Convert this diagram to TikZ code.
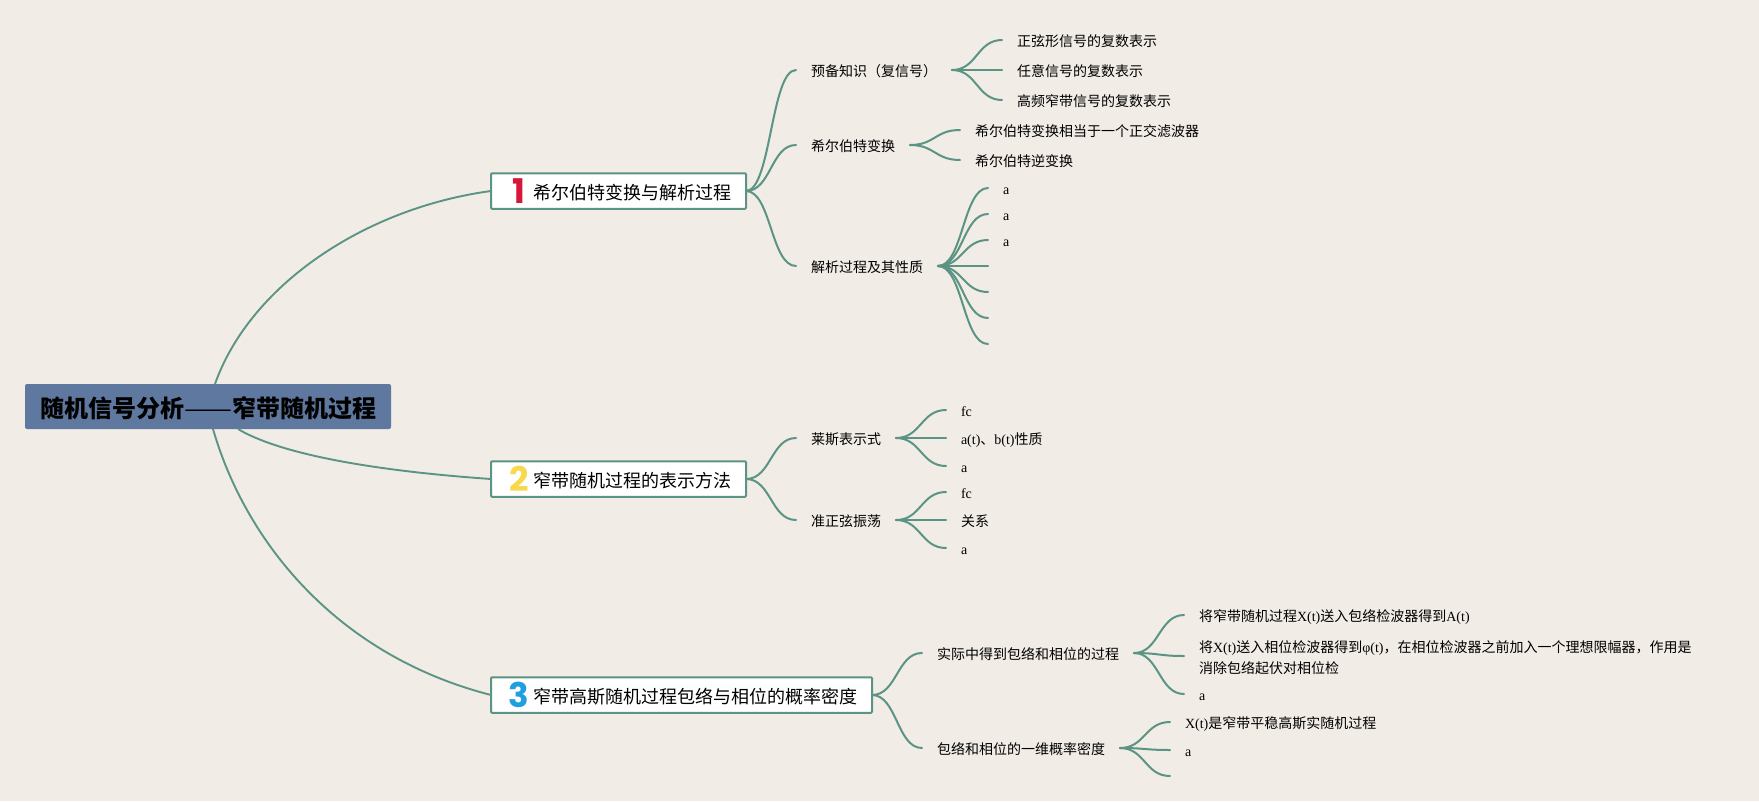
\documentclass[tikz,border=0pt]{standalone}
\usepackage{fontspec}
\usepackage{graphicx}
\setmainfont{Liberation Serif}
\newfontfamily\cjk{Noto Sans CJK SC}
\newfontfamily\digfont{Poppins}
\usetikzlibrary{calc}
\newcommand{\zh}[1]{{\cjk #1}}
\newcommand{\topicnum}[2]{\hspace*{14pt}\makebox[28pt][c]{\smash{\raisebox{-4pt}{\fontsize{34}{34}\selectfont\digfont\bfseries\textcolor{#1}{#2}}}}}
\definecolor{bgc}{HTML}{F1ECE6}
\definecolor{linec}{HTML}{5B9484}
\definecolor{rootc}{HTML}{5F789F}
\definecolor{numa}{HTML}{D8163C}
\definecolor{numb}{HTML}{F8D94E}
\definecolor{numc}{HTML}{1E9FE0}
\tikzset{
  rootnode/.style={fill=rootc,rounded corners=2pt,anchor=west,minimum height=45pt,inner xsep=15pt,inner ysep=0pt,outer sep=0pt,text height=21pt,text depth=0pt,font=\fontsize{24}{28}\selectfont\cjk\bfseries,text=black},
  topic/.style={draw=linec,line width=2pt,fill=white,rounded corners=1pt,anchor=west,minimum height=35.5pt,inner xsep=0pt,inner ysep=0pt,outer sep=0pt,text height=16pt,text depth=0pt,font=\fontsize{18}{22}\selectfont\cjk,text=black},
  leaf/.style={anchor=west,inner xsep=15pt,inner ysep=0pt,outer sep=0pt,text height=12pt,text depth=0pt,font=\fontsize{14}{21}\selectfont,text=black},
  wrapleaf/.style={leaf,text width=493pt,align=left,text depth=19pt},
  mainline/.style={draw=linec,line width=1.9pt},
  branch/.style={draw=linec,line width=2pt,line cap=round},
  sbranch/.style={to path={let \p1=(\tikztostart),\p2=(\tikztotarget),\n1={0.5*\x1+0.5*\x2} in .. controls (\n1,\y1) and (\n1,\y2) .. (\tikztotarget)}}
}
\begin{document}
\begin{tikzpicture}[x=1pt,y=-1pt]
\fill[bgc] (0,0) rectangle (1759,801);
\useasboundingbox (0,0) rectangle (1759,801);
% root and topics
\node[rootnode] (root) at (25,406.5) {随机信号分析{\mdseries\resizebox{48pt}{\height}{——}}窄带随机过程};
\node[topic] (t1) at (491,191) {\topicnum{numa}{1}希尔伯特变换与解析过程\hspace*{15pt}};
\node[topic] (t2) at (491,479) {\topicnum{numb}{2}窄带随机过程的表示方法\hspace*{15pt}};
\node[topic] (t3) at (491,695) {\topicnum{numc}{3}窄带高斯随机过程包络与相位的概率密度\hspace*{15pt}};
\draw[mainline] ([xshift=190pt]root.north west) .. controls (250,285) and (365,208) .. (t1.west);
\draw[mainline] ([xshift=213pt]root.south west) .. controls (285,457) and (390,472) .. (t2.west);
\draw[mainline] ([xshift=188pt]root.south west) .. controls (245,540) and (335,655) .. (t3.west);
% topic 1
\node[leaf] (a1) at (796,70) {\zh{预备知识（复信号）}};
\node[leaf] (a2) at (796,145) {\zh{希尔伯特变换}};
\node[leaf] (a3) at (796,266) {\zh{解析过程及其性质}};
\node[leaf] (a11) at (1002,40) {\zh{正弦形信号的复数表示}};
\node[leaf] (a12) at (1002,70) {\zh{任意信号的复数表示}};
\node[leaf] (a13) at (1002,100) {\zh{高频窄带信号的复数表示}};
\node[leaf] (a21) at (960,130) {\zh{希尔伯特变换相当于一个正交滤波器}};
\node[leaf] (a22) at (960,160) {\zh{希尔伯特逆变换}};
\node[leaf] (a31) at (988,188) {a};
\node[leaf] (a32) at (988,214) {a};
\node[leaf] (a33) at (988,240) {a};
\coordinate (a34) at (988,266);
\coordinate (a35) at (988,292);
\coordinate (a36) at (988,318);
\coordinate (a37) at (988,344);
\foreach \c in {a1,a2,a3} \draw[branch] (t1.east) to[sbranch] (\c.west);
\foreach \c in {a11,a12,a13} \draw[branch] (a1.east) to[sbranch] (\c.west);
\foreach \c in {a21,a22} \draw[branch] (a2.east) to[sbranch] (\c.west);
\foreach \c in {a31,a32,a33} \draw[branch] (a3.east) to[sbranch] (\c.west);
\foreach \c in {a34,a35,a36,a37} \draw[branch] (a3.east) to[sbranch] (\c);
% topic 2
\node[leaf] (b1) at (796,438) {\zh{莱斯表示式}};
\node[leaf] (b2) at (796,520) {\zh{准正弦振荡}};
\node[leaf] (b11) at (946,410) {fc};
\node[leaf] (b12) at (946,438) {a(t)\zh{、}b(t)\zh{性质}};
\node[leaf] (b13) at (946,466) {a};
\node[leaf] (b21) at (946,492) {fc};
\node[leaf] (b22) at (946,520) {\zh{关系}};
\node[leaf] (b23) at (946,548) {a};
\foreach \c in {b1,b2} \draw[branch] (t2.east) to[sbranch] (\c.west);
\foreach \c in {b11,b12,b13} \draw[branch] (b1.east) to[sbranch] (\c.west);
\foreach \c in {b21,b22,b23} \draw[branch] (b2.east) to[sbranch] (\c.west);
% topic 3
\node[leaf] (c1) at (922,653) {\zh{实际中得到包络和相位的过程}};
\node[leaf] (c2) at (922,748) {\zh{包络和相位的一维概率密度}};
\node[leaf] (c11) at (1184,615) {\zh{将窄带随机过程}X(t)\zh{送入包络检波器得到}A(t)};
\node[wrapleaf] (c12) at (1184,656) {\zh{将}X(t)\zh{送入相位检波器得到}φ(t)\zh{，在相位检波器之前加入一个理想限幅器，作用是}\\\zh{消除包络起伏对相位检}};
\node[leaf] (c13) at (1184,694) {a};
\node[leaf] (c21) at (1170,722) {X(t)\zh{是窄带平稳高斯实随机过程}};
\node[leaf] (c22) at (1170,750) {a};
\coordinate (c23) at (1170,776);
\foreach \c in {c1,c2} \draw[branch] (t3.east) to[sbranch] (\c.west);
\foreach \c in {c11,c12,c13} \draw[branch] (c1.east) to[sbranch] (\c.west);
\foreach \c in {c21,c22} \draw[branch] (c2.east) to[sbranch] (\c.west);
\draw[branch] (c2.east) to[sbranch] (c23);
\end{tikzpicture}
\end{document}
